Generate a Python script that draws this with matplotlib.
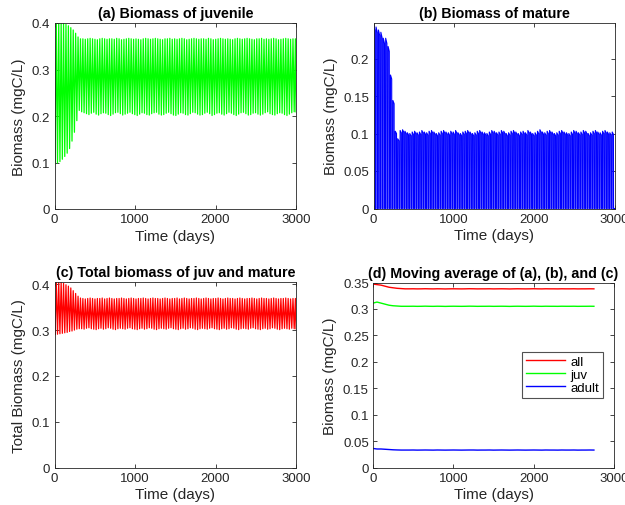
"""
Four-panel biomass figure: juvenile, mature, total and moving averages.
Writes out.png (625x506 px).
"""

import numpy as np
import matplotlib

matplotlib.use("Agg")
import matplotlib.pyplot as plt
from matplotlib.ticker import FuncFormatter

OUTPUT_PATH = "out.png"

COLOR_TEXT = "#262626"
COLOR_JUV = "#00FF00"
COLOR_ADULT = "#0000FF"
COLOR_ALL = "#FF0000"

# --- data: one value per oscillation cycle (period in days) ---
PERIOD_DAYS = 30.0
T_END = 3000.0

juv_start = 0.37
juv_peak = [
    0.403, 0.402, 0.401, 0.399, 0.397, 0.394, 0.390, 0.385, 0.378, 0.370, 0.366,
    0.366, 0.365, 0.366, 0.367, 0.366, 0.365, 0.364, 0.366, 0.367, 0.366,
    0.365, 0.366, 0.366, 0.365, 0.367, 0.366, 0.364, 0.365, 0.366, 0.367,
    0.366, 0.365, 0.366, 0.365, 0.364, 0.366, 0.367, 0.366, 0.365, 0.366,
    0.367, 0.366, 0.365, 0.364, 0.366, 0.366, 0.367, 0.365, 0.366, 0.365,
    0.366, 0.367, 0.366, 0.364, 0.365, 0.366, 0.367, 0.366, 0.365, 0.366,
    0.366, 0.365, 0.367, 0.366, 0.364, 0.365, 0.366, 0.367, 0.366, 0.365,
    0.366, 0.365, 0.364, 0.366, 0.367, 0.366, 0.365, 0.366, 0.367, 0.366,
    0.365, 0.364, 0.366, 0.366, 0.367, 0.365, 0.366, 0.365, 0.366, 0.367,
    0.366, 0.364, 0.365, 0.366, 0.367, 0.366, 0.365, 0.366, 0.366,
]
juv_trough = [
    0.097, 0.099, 0.102, 0.107, 0.113, 0.120, 0.130, 0.146, 0.165, 0.190, 0.212,
    0.209, 0.207, 0.205, 0.203, 0.206, 0.208, 0.204, 0.202, 0.205, 0.207,
    0.206, 0.203, 0.201, 0.204, 0.207, 0.208, 0.205, 0.202, 0.204, 0.206,
    0.208, 0.205, 0.203, 0.201, 0.204, 0.207, 0.206, 0.203, 0.202, 0.205,
    0.207, 0.208, 0.204, 0.202, 0.203, 0.206, 0.208, 0.205, 0.202, 0.201,
    0.204, 0.207, 0.206, 0.203, 0.202, 0.205, 0.208, 0.207, 0.204, 0.202,
    0.203, 0.206, 0.208, 0.205, 0.201, 0.203, 0.206, 0.207, 0.204, 0.202,
    0.205, 0.208, 0.206, 0.203, 0.201, 0.204, 0.207, 0.208, 0.205, 0.202,
    0.203, 0.206, 0.207, 0.204, 0.202, 0.204, 0.207, 0.209, 0.205, 0.203,
    0.202, 0.205, 0.207, 0.206, 0.203, 0.201, 0.204, 0.207, 0.209,
]
adult_peak = [
    0.245, 0.242, 0.238, 0.235, 0.227, 0.227, 0.216, 0.178, 0.144, 0.103, 0.093,
    0.104, 0.105, 0.103, 0.101, 0.100, 0.102, 0.103, 0.101, 0.102, 0.104,
    0.102, 0.101, 0.103, 0.104, 0.102, 0.100, 0.101, 0.103, 0.104, 0.102,
    0.101, 0.103, 0.102, 0.104, 0.101, 0.100, 0.102, 0.103, 0.104, 0.102,
    0.100, 0.101, 0.103, 0.104, 0.102, 0.101, 0.100, 0.102, 0.104, 0.103,
    0.101, 0.102, 0.104, 0.103, 0.100, 0.101, 0.103, 0.104, 0.102, 0.100,
    0.102, 0.103, 0.101, 0.104, 0.102, 0.100, 0.101, 0.103, 0.105, 0.102,
    0.101, 0.103, 0.104, 0.102, 0.100, 0.101, 0.103, 0.104, 0.102, 0.101,
    0.100, 0.102, 0.104, 0.103, 0.101, 0.102, 0.104, 0.103, 0.100, 0.101,
    0.103, 0.104, 0.102, 0.101, 0.103, 0.104, 0.102, 0.101, 0.102,
]
total_start = 0.33
total_peak = [
    0.405, 0.405, 0.404, 0.402, 0.399, 0.396, 0.392, 0.386, 0.380, 0.374, 0.370,
    0.369, 0.368, 0.369, 0.370, 0.369, 0.368, 0.369, 0.369, 0.370, 0.368,
    0.369, 0.370, 0.369, 0.368, 0.369, 0.369, 0.370, 0.369, 0.368, 0.369,
    0.370, 0.369, 0.368, 0.369, 0.369, 0.370, 0.369, 0.368, 0.369, 0.370,
    0.369, 0.369, 0.368, 0.369, 0.370, 0.369, 0.368, 0.369, 0.369, 0.370,
    0.368, 0.369, 0.370, 0.369, 0.368, 0.369, 0.369, 0.370, 0.369, 0.368,
    0.369, 0.370, 0.369, 0.368, 0.369, 0.369, 0.370, 0.369, 0.368, 0.369,
    0.370, 0.369, 0.369, 0.368, 0.369, 0.370, 0.369, 0.368, 0.369, 0.369,
    0.370, 0.369, 0.368, 0.369, 0.370, 0.369, 0.369, 0.368, 0.369, 0.370,
    0.369, 0.368, 0.369, 0.369, 0.370, 0.369, 0.368, 0.369, 0.369,
]
total_trough = [
    0.290, 0.291, 0.292, 0.293, 0.294, 0.295, 0.297, 0.298, 0.300, 0.302, 0.303,
    0.303, 0.302, 0.304, 0.305, 0.303, 0.302, 0.301, 0.303, 0.304, 0.302,
    0.303, 0.305, 0.304, 0.302, 0.301, 0.303, 0.304, 0.303, 0.302, 0.304,
    0.305, 0.303, 0.302, 0.301, 0.303, 0.304, 0.302, 0.303, 0.305, 0.304,
    0.302, 0.301, 0.303, 0.304, 0.303, 0.302, 0.304, 0.305, 0.303, 0.302,
    0.301, 0.303, 0.304, 0.302, 0.303, 0.305, 0.304, 0.302, 0.301, 0.303,
    0.304, 0.303, 0.302, 0.304, 0.305, 0.303, 0.302, 0.301, 0.303, 0.304,
    0.302, 0.303, 0.305, 0.304, 0.302, 0.301, 0.303, 0.304, 0.303, 0.302,
    0.304, 0.305, 0.303, 0.302, 0.301, 0.303, 0.304, 0.302, 0.303, 0.305,
    0.304, 0.302, 0.301, 0.303, 0.304, 0.303, 0.302, 0.304, 0.303,
]

# --- moving averages, sampled every 50 days up to day 2750 ---
ma_step = 50.0
ma_all = [
    0.3470, 0.3460, 0.3450, 0.3430, 0.3410, 0.3400, 0.3390, 0.3385, 0.3380, 0.3380,
    0.3381, 0.3379, 0.3380, 0.3382, 0.3380, 0.3379, 0.3381, 0.3380, 0.3378, 0.3380,
    0.3381, 0.3380, 0.3379, 0.3380, 0.3382, 0.3381, 0.3379, 0.3380, 0.3380, 0.3381,
    0.3379, 0.3380, 0.3381, 0.3380, 0.3378, 0.3380, 0.3381, 0.3380, 0.3379, 0.3380,
    0.3382, 0.3380, 0.3379, 0.3381, 0.3380, 0.3380, 0.3379, 0.3381, 0.3380, 0.3380,
    0.3381, 0.3379, 0.3380, 0.3380, 0.3381, 0.3380,
]
ma_juv = [
    0.3110, 0.3130, 0.3110, 0.3090, 0.3070, 0.3060, 0.3055, 0.3050, 0.3050, 0.3050,
    0.3051, 0.3049, 0.3050, 0.3052, 0.3050, 0.3049, 0.3051, 0.3050, 0.3048, 0.3050,
    0.3051, 0.3050, 0.3049, 0.3050, 0.3052, 0.3051, 0.3049, 0.3050, 0.3050, 0.3051,
    0.3049, 0.3050, 0.3051, 0.3050, 0.3048, 0.3050, 0.3051, 0.3050, 0.3049, 0.3050,
    0.3052, 0.3050, 0.3049, 0.3051, 0.3050, 0.3050, 0.3049, 0.3051, 0.3050, 0.3050,
    0.3051, 0.3049, 0.3050, 0.3050, 0.3051, 0.3050,
]
ma_adult = [
    0.0360, 0.0350, 0.0350, 0.0345, 0.0340, 0.0335, 0.0332, 0.0330, 0.0330, 0.0330,
    0.0331, 0.0329, 0.0330, 0.0331, 0.0330, 0.0329, 0.0331, 0.0330, 0.0329, 0.0330,
    0.0331, 0.0330, 0.0329, 0.0330, 0.0331, 0.0331, 0.0329, 0.0330, 0.0330, 0.0331,
    0.0329, 0.0330, 0.0331, 0.0330, 0.0329, 0.0330, 0.0331, 0.0330, 0.0329, 0.0330,
    0.0331, 0.0330, 0.0329, 0.0331, 0.0330, 0.0330, 0.0329, 0.0331, 0.0330, 0.0330,
    0.0331, 0.0329, 0.0330, 0.0330, 0.0331, 0.0330,
]

# axes rectangles in pixels: left, top, right, bottom
FIG_W, FIG_H = 625, 506
AXES_PX = {
    "a": (54.5, 24, 296, 210),
    "b": (373.5, 23.5, 614.5, 209.5),
    "c": (54.5, 283, 296, 468.5),
    "d": (373, 283.5, 614, 468.5),
}


def px_rect(left, top, right, bottom):
    return [left / FIG_W, 1 - bottom / FIG_H, (right - left) / FIG_W, (bottom - top) / FIG_H]


def zigzag(start, trough, peak):
    starts = np.arange(len(peak)) * PERIOD_DAYS
    t = np.column_stack([starts + 0.25 * PERIOD_DAYS, starts + 0.75 * PERIOD_DAYS]).ravel()
    y = np.column_stack([trough, peak]).ravel()
    return np.concatenate([[0.0], t, [T_END]]), np.concatenate([[start], y, [trough[-1]]])


def spikes(peak):
    starts = np.arange(len(peak)) * PERIOD_DAYS
    p = np.asarray(peak)
    t = np.column_stack(
        [starts, starts + 0.05 * PERIOD_DAYS, starts + 0.55 * PERIOD_DAYS, starts + 0.6 * PERIOD_DAYS]
    ).ravel()
    y = np.column_stack([np.zeros_like(p), p, p * 0.97, np.zeros_like(p)]).ravel()
    return np.concatenate([t, [T_END]]), np.concatenate([y, [0.0]])


def style_axes(ax, title, ylabel, ylim, yticks):
    ax.set_xlim(0, T_END)
    ax.set_ylim(*ylim)
    ax.set_xticks([0, 1000, 2000, 3000])
    ax.set_yticks(yticks)
    ax.yaxis.set_major_formatter(FuncFormatter(lambda v, _: f"{v:g}"))
    ax.tick_params(
        direction="in", length=3, width=0.6, top=True, right=True,
        labelsize=9.5, colors=COLOR_TEXT, pad=3,
    )
    for spine in ax.spines.values():
        spine.set_color(COLOR_TEXT)
        spine.set_linewidth(0.6)
    ax.set_title(title, fontsize=10.3, fontweight="bold", color="black", pad=4)
    ax.set_xlabel("Time (days)", fontsize=11, color=COLOR_TEXT, labelpad=2.5)
    ax.set_ylabel(ylabel, fontsize=11, color=COLOR_TEXT, labelpad=4)


def main():
    plt.rcParams["font.family"] = ["Liberation Sans", "DejaVu Sans"]
    fig = plt.figure(figsize=(FIG_W / 100, FIG_H / 100), dpi=100)

    # (a) juvenile
    ax = fig.add_axes(px_rect(*AXES_PX["a"]))
    t, y = zigzag(juv_start, juv_trough, juv_peak)
    ax.plot(t, y, color=COLOR_JUV, lw=0.9)
    style_axes(ax, "(a) Biomass of juvenile", "Biomass (mgC/L)", (0, 0.4), [0, 0.1, 0.2, 0.3, 0.4])

    # (b) mature
    ax = fig.add_axes(px_rect(*AXES_PX["b"]))
    t, y = spikes(adult_peak)
    ax.plot(t, y, color=COLOR_ADULT, lw=0.8)
    style_axes(ax, "(b) Biomass of mature", "Biomass (mgC/L)", (0, 0.248), [0, 0.05, 0.1, 0.15, 0.2])

    # (c) total
    ax = fig.add_axes(px_rect(*AXES_PX["c"]))
    t, y = zigzag(total_start, total_trough, total_peak)
    ax.plot(t, y, color=COLOR_ALL, lw=0.9)
    style_axes(
        ax, "(c) Total biomass of juv and mature", "Total Biomass (mgC/L)",
        (0, 0.405), [0, 0.1, 0.2, 0.3, 0.4],
    )

    # (d) moving averages
    ax = fig.add_axes(px_rect(*AXES_PX["d"]))
    t_ma = np.arange(len(ma_all)) * ma_step
    ax.plot(t_ma, ma_all, color=COLOR_ALL, lw=1.0, label="all")
    ax.plot(t_ma, ma_juv, color=COLOR_JUV, lw=1.0, label="juv")
    ax.plot(t_ma, ma_adult, color=COLOR_ADULT, lw=1.0, label="adult")
    style_axes(
        ax, "(d) Moving average of (a), (b), and (c)", "Biomass (mgC/L)",
        (0, 0.35), [0, 0.05, 0.1, 0.15, 0.2, 0.25, 0.3, 0.35],
    )
    leg = ax.legend(
        loc="upper right", bbox_to_anchor=(0.955, 0.625), fontsize=9.5,
        frameon=True, fancybox=False, handlelength=3.0, handletextpad=0.4,
        borderpad=0.3, labelspacing=0.05, borderaxespad=0,
    )
    leg.get_frame().set_edgecolor(COLOR_TEXT)
    leg.get_frame().set_linewidth(0.8)

    fig.savefig(OUTPUT_PATH, dpi=100, facecolor="white")
    plt.close(fig)


if __name__ == "__main__":
    main()
